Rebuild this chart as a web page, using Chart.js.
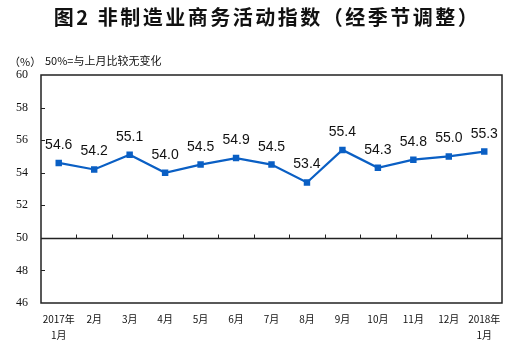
<!DOCTYPE html>
<html>
<head>
<meta charset="utf-8">
<script src="https://cdn.jsdelivr.net/npm/chart.js@4"></script>
<style>
  html, body { margin: 0; padding: 0; background: #fff; }
  #wrap { width: 515px; height: 347px; position: relative; }
</style>
</head>
<body>
<div id="wrap"><canvas id="c" width="515" height="347"></canvas></div>
<script>
// Non-manufacturing business activity index, seasonally adjusted
const months = [
  ['2017年', '1月'], '2月', '3月', '4月', '5月', '6月', '7月',
  '8月', '9月', '10月', '11月', '12月', ['2018年', '1月']
];
const indexValues = [54.6, 54.2, 55.1, 54.0, 54.5, 54.9, 54.5, 53.4, 55.4, 54.3, 54.8, 55.0, 55.3];
const yTicks = [46, 48, 50, 52, 54, 56, 58, 60];
const baseline = 50;

const titleText = '图2 非制造业商务活动指数（经季节调整）';
const unitText = '（%）';
const noteText = '50%=与上月比较无变化';

const cjk = '"Noto Sans CJK SC", "Noto Sans", sans-serif';

const framePlugin = {
  id: 'frame',
  beforeDatasetsDraw(chart) {
    const { ctx, chartArea: a, scales: { x, y } } = chart;
    ctx.save();
    ctx.strokeStyle = '#222';
    ctx.lineWidth = 1.5;
    ctx.strokeRect(a.left, a.top, a.right - a.left, a.bottom - a.top);
    // 50% reference line
    const yb = Math.round(y.getPixelForValue(baseline)) + 0.5;
    ctx.lineWidth = 1.3;
    ctx.beginPath();
    ctx.moveTo(a.left, yb);
    ctx.lineTo(a.right, yb);
    ctx.stroke();
    // category boundary ticks on the reference line
    ctx.lineWidth = 1;
    const n = months.length;
    const w = (a.right - a.left) / n;
    ctx.beginPath();
    for (let i = 1; i < n; i++) {
      const px = Math.round(a.left + w * i) + 0.5;
      ctx.moveTo(px, yb);
      ctx.lineTo(px, yb - 4);
    }
    // inward ticks on the value axis
    yTicks.forEach(v => {
      if (v === yTicks[0] || v === yTicks[yTicks.length - 1] || v === baseline) return;
      const py = Math.round(y.getPixelForValue(v)) + 0.5;
      ctx.moveTo(a.left, py);
      ctx.lineTo(a.left + 4, py);
    });
    ctx.stroke();
    ctx.restore();
  },
  afterDatasetsDraw(chart) {
    const { ctx } = chart;
    const meta = chart.getDatasetMeta(0);
    ctx.save();
    ctx.fillStyle = '#111';
    ctx.font = '14px "Liberation Sans", Arial, sans-serif';
    ctx.textAlign = 'center';
    ctx.textBaseline = 'alphabetic';
    meta.data.forEach((pt, i) => {
      ctx.fillText(indexValues[i].toFixed(1), pt.x, pt.y - 14);
    });
    ctx.restore();
  },
  afterDraw(chart) {
    const { ctx } = chart;
    ctx.save();
    ctx.fillStyle = '#111';
    ctx.textBaseline = 'middle';
    ctx.textAlign = 'center';
    ctx.font = 'bold 20px ' + cjk;
    ctx.letterSpacing = '2.5px';
    ctx.fillText(titleText, 267, 17);
    ctx.letterSpacing = '0px';
    ctx.textAlign = 'left';
    ctx.font = '11px ' + cjk;
    ctx.fillText(unitText, 9, 62);
    ctx.fillText(noteText, 45, 61);
    ctx.restore();
  }
};

new Chart(document.getElementById('c'), {
  type: 'line',
  data: {
    labels: months,
    datasets: [{
      data: indexValues,
      borderColor: '#0a5fc4',
      backgroundColor: '#0a5fc4',
      borderWidth: 2.2,
      pointStyle: 'rect',
      pointRadius: 3,
      pointHoverRadius: 3,
      tension: 0
    }]
  },
  options: {
    responsive: false,
    animation: false,
    events: [],
    layout: { padding: { top: 75, right: 13, left: 0, bottom: 0 } },
    plugins: { legend: { display: false }, tooltip: { enabled: false }, title: { display: false } },
    scales: {
      x: {
        offset: true,
        grid: { display: false, drawTicks: false },
        border: { display: false },
        afterFit(s) { s.height = 44; },
        ticks: {
          color: '#111',
          padding: 8,
          maxRotation: 0,
          autoSkip: false,
          font: { family: cjk, size: 10, lineHeight: 1.6 }
        }
      },
      y: {
        min: yTicks[0],
        max: yTicks[yTicks.length - 1],
        afterFit(s) { s.width = 41; },
        afterBuildTicks(s) { s.ticks = yTicks.map(v => ({ value: v })); },
        grid: { display: false, drawTicks: false },
        border: { display: false },
        ticks: {
          color: '#111',
          padding: 13,
          font: { family: '"Liberation Serif", "Times New Roman", serif', size: 12 }
        }
      }
    }
  },
  plugins: [framePlugin]
});
</script>
</body>
</html>
